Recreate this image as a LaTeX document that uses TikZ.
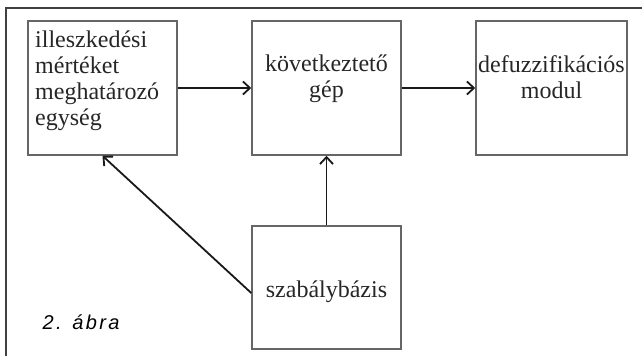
\documentclass[tikz,border=0pt]{standalone}
\usepackage{fontspec}
\setmainfont{Liberation Serif}
\newfontfamily\capfont[LetterSpace=12]{Liberation Sans}
\usetikzlibrary{arrows.meta}
\begin{document}
\begin{tikzpicture}[x=1pt,y=-1pt,
  box/.style={draw=black!60, line width=1.5pt, minimum width=149pt, minimum height=134pt, inner sep=0pt},
  lbl/.style={font=\fontsize{24}{26}\selectfont, inner sep=0pt, text=black!85},
  conn/.style={draw=black!90, line width=1.8pt, -{Straight Barb[length=7pt,width=13pt]}}]
\useasboundingbox (0,0) rectangle (642,356);
\draw[black!75, line width=1.3pt] (6,356) -- (6,8) -- (642,8);
\node[box] (b1) at (102.5,88) {};
\node[box] (b2) at (326.5,88) {};
\node[box, minimum width=151pt] (b3) at (551.5,88) {};
\node[box, minimum height=123pt] (b4) at (326.5,287.5) {};
\node[lbl, anchor=north west, align=left] (t1) at (35,30.5) {illeszkedési\\mértéket\\meghatározó\\egység};
\node[lbl, anchor=north, align=center] (t2) at (326.5,55) {következtető\\gép};
\node[lbl, anchor=north, align=center] (t3) at (551.5,55.5) {defuzzifikációs\\modul};
\node[lbl, anchor=base] (t4) at (326.5,297) {szabálybázis};
\node[font=\capfont\itshape\fontsize{20}{24}\selectfont, anchor=base west, inner sep=0pt] (cap) at (42.5,329) {2. ábra};
\draw[conn] (b1) -- (b2);
\draw[conn] (b2) -- (b3);
\draw[conn] (b4) -- (b2);
\draw[conn] ([yshift=-5.5pt]b4.west) -- (b1.south);
\end{tikzpicture}
\end{document}
